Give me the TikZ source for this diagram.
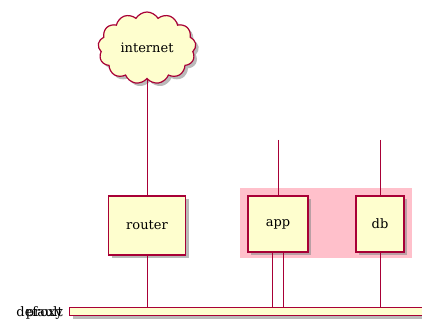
\documentclass[tikz,border=0pt]{standalone}
\usepackage{fontspec}
\setmainfont{DejaVu Serif}
\usetikzlibrary{shapes.symbols,shadows}
\definecolor{bordc}{HTML}{A80036}
\definecolor{fillc}{HTML}{FEFECE}
\definecolor{grpc}{HTML}{FFC0CB}
\tikzset{
  shd/.style={drop shadow={shadow xshift=3pt,shadow yshift=-3pt,fill=black!45,opacity=0.6}},
  hostbox/.style={draw=bordc,fill=fillc,line width=1.2pt,shd,inner sep=0pt,font=\fontsize{13}{15}\selectfont},
  conn/.style={draw=bordc,line width=0.9pt},
  netlbl/.style={anchor=base east,inner sep=0pt,font=\fontsize{13}{15}\selectfont}
}
\begin{document}
\begin{tikzpicture}[x=1pt,y=1pt]
\useasboundingbox (0,0) rectangle (422,-320);
% group
\fill[grpc] (240,-188) rectangle (412,-258);
% network bar
\node[draw=bordc,fill=fillc,line width=1.2pt,shd,minimum width=360pt,minimum height=8pt,inner sep=0pt,anchor=north west] (bar) at (69,-307) {};
\node[netlbl] (lbl1) at (63,-316) {default};
\node[netlbl] (lbl2) at (63,-316) {proxy};
% nodes
\node[cloud,cloud puffs=13,cloud puff arc=120,aspect=1.35,minimum width=98pt,minimum height=72pt,hostbox] (internet) at (147,-48) {internet};
\node[hostbox,minimum width=77pt,minimum height=59pt] (router) at (147,-225.5) {router};
\node[hostbox,minimum width=60pt,minimum height=56pt] (app) at (278,-224) {app};
\node[hostbox,minimum width=48pt,minimum height=56pt] (db) at (380,-224) {db};
\coordinate (apptop) at (278,-140);
\coordinate (dbtop) at (380,-140);
% connectors
\draw[conn] (router.north |- internet.south) -- (router.north);
\draw[conn] (router.south) -- (router.south |- bar.north);
\draw[conn] (apptop) -- (app.north);
\draw[conn] (dbtop) -- (db.north);
\draw[conn] ([xshift=-5.5pt]app.south) -- ([xshift=-5.5pt]app.south |- bar.north);
\draw[conn] ([xshift=5.5pt]app.south) -- ([xshift=5.5pt]app.south |- bar.north);
\draw[conn] (db.south) -- (db.south |- bar.north);
\end{tikzpicture}
\end{document}
